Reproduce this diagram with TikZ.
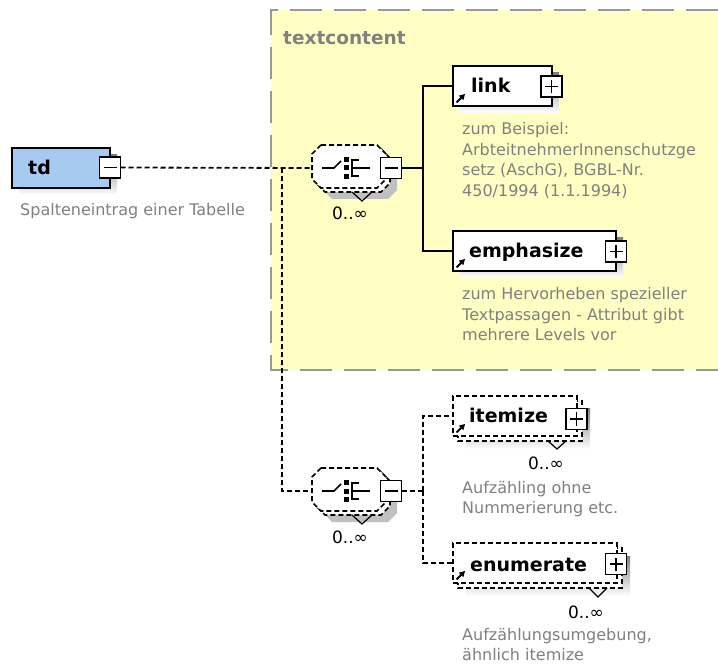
\documentclass[tikz,border=0pt]{standalone}
\usepackage{fontspec}
\setmainfont{DejaVu Sans}
\usetikzlibrary{arrows.meta}

\definecolor{panelfill}{HTML}{FFFFC4}
\definecolor{panelline}{HTML}{999999}
\definecolor{shade}{HTML}{C0C0C0}
\definecolor{tdfill}{HTML}{A6CAF0}
\definecolor{notegrey}{HTML}{808080}

\tikzset{
  elbox/.style={draw=black, line width=2pt, fill=white, inner sep=0pt, outer sep=0pt},
  optline/.style={line width=1.6pt, dash pattern=on 5pt off 3pt},
  optbox/.style={elbox, optline},
  pmbox/.style={draw=black, line width=1.7pt, fill=white, minimum width=21pt,
    minimum height=21pt, inner sep=0pt, outer sep=0pt},
  solidconn/.style={draw=black, line width=2pt},
  dashconn/.style={draw=black, line width=1.8pt, dash pattern=on 5pt off 3pt},
  eltitle/.style={font=\fontsize{19}{19}\selectfont\bfseries, anchor=base west, inner sep=0pt},
  notetext/.style={font=\fontsize{16}{20.5}\selectfont, text=notegrey, anchor=base west, inner sep=0pt},
  multtext/.style={font=\fontsize{17}{17}\selectfont, anchor=base, inner sep=0pt},
}

% chamfered outline: options, x1, y1, x2, y2
\newcommand\octo[5]{%
  \path[#1] ({#2+9},{#3}) -- ({#4-9},{#3}) -- ({#4},{#3+9}) -- ({#4},{#5-9})
    -- ({#4-9},{#5}) -- ({#2+9},{#5}) -- ({#2},{#5-9}) -- ({#2},{#3+9}) -- cycle;}

\newcommand\minusmark[1]{\draw[line width=1.7pt] ([xshift=-6.5pt]#1.center) -- ([xshift=6.5pt]#1.center);}
\newcommand\plusmark[1]{\draw[line width=1.7pt] ([xshift=-6.5pt]#1.center) -- ([xshift=6.5pt]#1.center)
  ([yshift=-6.5pt]#1.center) -- ([yshift=6.5pt]#1.center);}
% reference arrow in the lower left corner: left, bottom
\newcommand\refarrow[2]{\draw[line width=1.8pt, -{Triangle[length=5.5pt,width=6pt]}]
  ({#1+3.5},{#2-3.5}) -- ({#1+12},{#2-12});}

% sequence compositor with 0..unbounded: name, left x, centre y
\newcommand\seqcomp[3]{%
  \octo{fill=shade}{#2+11}{#3-12}{#2+85}{#3+31}
  \octo{draw=black,fill=white,optline}{#2+4}{#3-19}{#2+78}{#3+24}
  \octo{draw=black,fill=white,optline}{#2}{#3-23}{#2+74}{#3+20}
  \draw[line width=1.2pt] ({#2+40},{#3+24}) -- ({#2+50},{#3+33}) -- ({#2+60},{#3+24});
  \draw[line width=1.6pt] ({#2+10},{#3}) -- ({#2+22},{#3}) -- ({#2+29},{#3-7});
  \fill ({#2+32},{#3-11}) rectangle ({#2+37},{#3-6});
  \fill ({#2+32},{#3-2.5}) rectangle ({#2+37},{#3+2.5});
  \fill ({#2+32},{#3+6}) rectangle ({#2+37},{#3+11});
  \draw[line width=1.6pt] ({#2+47},{#3-8}) -- ({#2+40},{#3-8}) -- ({#2+40},{#3+8}) -- ({#2+47},{#3+8})
    ({#2+40},{#3}) -- ({#2+58},{#3});
  \node[inner sep=0pt, outer sep=0pt, minimum width=74pt, minimum height=42pt] (#1) at ({#2+37},{#3}) {};
  \node[pmbox] (#1m) at ({#2+79},{#3}) {};
  \minusmark{#1m}
  \node[multtext] (#1n) at ({#2+38},{#3+52}) {0..∞};
}

\begin{document}
\begin{tikzpicture}[x=1pt, y=-1pt]
\useasboundingbox (0,0) rectangle (718,668);
\fill[white] (0,0) rectangle (718,668);

% group panel
\fill[panelfill] (271,10) rectangle (718,370);
\draw[panelline, line width=2.5pt, dash pattern=on 32pt off 12pt] (718,10) -- (271,10) -- (271,370) -- (718,370);
\node[font=\fontsize{18.5}{18.5}\selectfont\bfseries, text=notegrey, anchor=base west, inner sep=0pt]
  (grouptitle) at (283,45) {textcontent};

% td
\fill[shade] (19,155) rectangle (117,195);
\node[elbox, fill=tdfill, minimum width=98pt, minimum height=40pt] (td) at (61,168) {};
\node[eltitle] (tdt) at (28,175) {td};
\node[pmbox] (tdm) at (110,167.5) {};
\minusmark{tdm}
\node[notetext] (tdd) at (20,216) {Spalteneintrag einer Tabelle};

% compositors
\seqcomp{seqA}{312}{168}
\seqcomp{seqB}{312}{491}

% link
\fill[shade] (460,73) rectangle (559,113);
\node[elbox, minimum width=99pt, minimum height=40pt] (link) at (502.5,86) {};
\node[eltitle] (linkt) at (471,93) {link};
\node[pmbox] (linkp) at (551.5,86.5) {};
\plusmark{linkp}
\refarrow{453}{106}
\node[notetext] (linkd) at (462,135) {\begin{tabular}[t]{@{}l@{}}zum Beispiel:\\
  ArbteitnehmerInnenschutzge\\ setz (AschG), BGBL-Nr.\\ 450/1994 (1.1.1994)\end{tabular}};

% emphasize
\fill[shade] (460,238) rectangle (623,278);
\node[elbox, minimum width=163pt, minimum height=40pt] (emph) at (534.5,251) {};
\node[eltitle] (empht) at (469,258) {emphasize};
\node[pmbox] (emphp) at (616,251.5) {};
\plusmark{emphp}
\refarrow{453}{271}
\node[notetext] (emphd) at (462,300) {\begin{tabular}[t]{@{}l@{}}zum Hervorheben spezieller\\
  Textpassagen - Attribut gibt\\ mehrere Levels vor\end{tabular}};

% itemize
\fill[shade] (466,409) rectangle (590,449);
\draw[optbox] (458,401) rectangle (582,441);
\node[optbox, minimum width=124pt, minimum height=40pt] (item) at (515,416) {};
\node[eltitle] (itemt) at (469,423) {itemize};
\node[pmbox] (itemp) at (576.5,419) {};
\plusmark{itemp}
\refarrow{453}{436}
\draw[line width=1.2pt] (548,441) -- (557,449) -- (566,441);
\node[multtext] (itemn) at (546,469) {0..∞};
\node[notetext] (itemd) at (462,493) {\begin{tabular}[t]{@{}l@{}}Aufzähling ohne\\
  Nummerierung etc.\end{tabular}};

% enumerate
\fill[shade] (466,556) rectangle (630,596);
\draw[optbox] (458,548) rectangle (622,588);
\node[optbox, minimum width=164pt, minimum height=40pt] (enum) at (535,563) {};
\node[eltitle] (enumt) at (470,571) {enumerate};
\node[pmbox] (enump) at (616,564) {};
\plusmark{enump}
\refarrow{453}{583}
\draw[line width=1.2pt] (589,588) -- (598,597) -- (607,588);
\node[multtext] (enumn) at (586,618) {0..∞};
\node[notetext] (enumd) at (462,640) {\begin{tabular}[t]{@{}l@{}}Aufzählungsumgebung,\\
  ähnlich itemize\end{tabular}};

% connectors
\coordinate (tA) at (282,168);
\coordinate (jA) at (423,168);
\coordinate (jB) at (423,491);
\draw[dashconn] (tdm.east) -- (seqA.west);
\draw[dashconn] (tA) |- (seqB.west);
\draw[solidconn] (seqAm.east) -- (jA);
\draw[solidconn] (jA) |- (link.west);
\draw[solidconn] (jA) |- (emph.west);
\draw[dashconn] (seqBm.east) -- (jB);
\draw[dashconn] (jB) |- (item.west);
\draw[dashconn] (jB) |- (enum.west);
\end{tikzpicture}
\end{document}
